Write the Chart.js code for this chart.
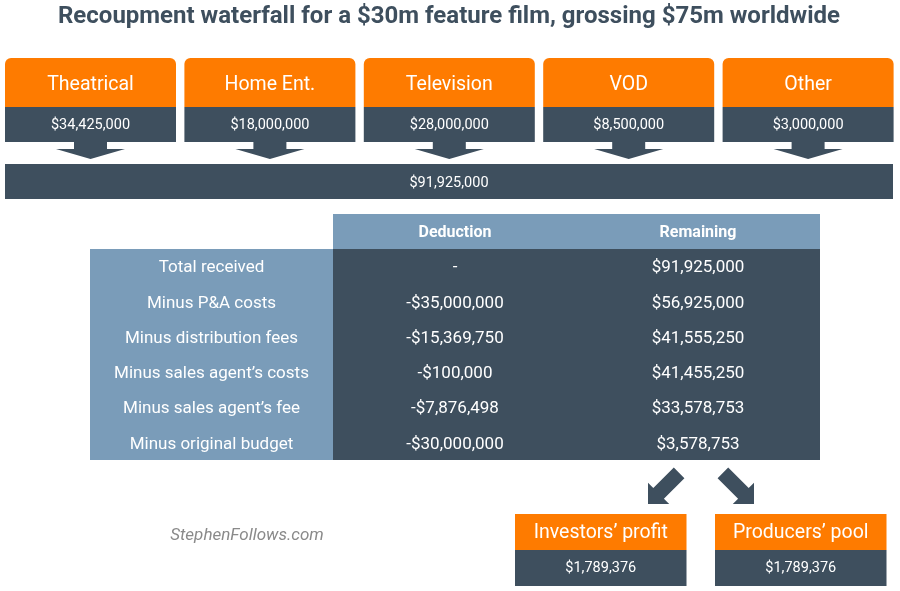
<!DOCTYPE html>
<html>
<head>
<meta charset="utf-8">
<script src="https://cdn.jsdelivr.net/npm/chart.js@4.4.1/dist/chart.umd.min.js"></script>
<style>
  html, body { margin: 0; padding: 0; background: #fff; }
  #contenedor { width: 900px; height: 591px; }
</style>
</head>
<body>
<div id="contenedor"><canvas id="grafica" width="900" height="591"></canvas></div>
<script>
const titulo = 'Recoupment waterfall for a $30m feature film, grossing $75m worldwide';
const fuentes = ['Theatrical', 'Home Ent.', 'Television', 'VOD', 'Other'];
const ingresos = [34425000, 18000000, 28000000, 8500000, 3000000];
const columnas = ['Deduction', 'Remaining'];
const pasos = ['Total received', 'Minus P&A costs', 'Minus distribution fees', 'Minus sales agent\u2019s costs', 'Minus sales agent\u2019s fee', 'Minus original budget'];
const deducciones = [null, -35000000, -15369750, -100000, -7876498, -30000000];
const restante = [91925000, 56925000, 41555250, 41455250, 33578753, 3578753];
const repartos = ['Investors\u2019 profit', 'Producers\u2019 pool'];
const repartoValores = [1789376, 1789376];
const firma = 'StephenFollows.com';

const NARANJA = '#fe7b00';
const PIZARRA = '#3e4f5e';
const ACERO = '#7a9cb9';
const FUENTE = 'Roboto, "Noto Sans", sans-serif';

function dinero(v) {
  if (v === null) return '-';
  return (v < 0 ? '-$' : '$') + Math.abs(v).toLocaleString('en-US');
}

function caja(ctx, x0, y0, x1, y1, color, radio) {
  ctx.fillStyle = color;
  ctx.beginPath();
  if (radio && ctx.roundRect) {
    ctx.roundRect(x0, y0, x1 - x0, y1 - y0, [radio, radio, 0, 0]);
  } else {
    ctx.rect(x0, y0, x1 - x0, y1 - y0);
  }
  ctx.fill();
}

function texto(ctx, str, x, y, fuente, color) {
  ctx.font = fuente;
  ctx.fillStyle = color;
  ctx.textAlign = 'center';
  ctx.textBaseline = 'middle';
  ctx.fillText(str, x, y + 1.5);
}

function poligono(ctx, puntos, color) {
  ctx.fillStyle = color;
  ctx.beginPath();
  puntos.forEach(([x, y], i) => i ? ctx.lineTo(x, y) : ctx.moveTo(x, y));
  ctx.closePath();
  ctx.fill();
}

// flecha diagonal: punta en (px, py), dir = -1 izquierda, 1 derecha
function flechaDiagonal(ctx, px, py, dir, color) {
  ctx.save();
  ctx.translate(px, py);
  ctx.rotate(dir < 0 ? Math.PI * 3 / 4 : Math.PI / 4);
  // eje local: x hacia la punta, punta en 0
  poligono(ctx, [[0, 0], [-15, -15], [-15, -7.5], [-44, -7.5], [-44, 7.5], [-15, 7.5], [-15, 15]], color);
  ctx.restore();
}

const dibujo = {
  id: 'dibujo',
  afterDraw(chart) {
    const ctx = chart.ctx;
    const X = v => chart.scales.x.getPixelForValue(v);
    const Y = v => chart.scales.y.getPixelForValue(v);

    texto(ctx, titulo, X(449), Y(15), `bold 24px ${FUENTE}`, PIZARRA);

    fuentes.forEach((nombre, i) => {
      const x0 = 5 + i * 179.4, x1 = x0 + 171, cx = (x0 + x1) / 2;
      caja(ctx, X(x0), Y(58), X(x1), Y(107), NARANJA, 6);
      caja(ctx, X(x0), Y(107), X(x1), Y(142), PIZARRA);
      texto(ctx, nombre, X(cx), Y(84), `19.5px ${FUENTE}`, '#fff');
      texto(ctx, dinero(ingresos[i]), X(cx), Y(124), `14.5px ${FUENTE}`, '#fff');
      poligono(ctx, [
        [X(cx - 16.5), Y(141)], [X(cx + 16.5), Y(141)], [X(cx + 16.5), Y(149)],
        [X(cx + 34.5), Y(149)], [X(cx), Y(159)], [X(cx - 34.5), Y(149)], [X(cx - 16.5), Y(149)]
      ], PIZARRA);
    });

    const total = ingresos.reduce((a, b) => a + b, 0);
    caja(ctx, X(5), Y(164), X(893), Y(199), PIZARRA);
    texto(ctx, dinero(total), X(449), Y(182), `14.5px ${FUENTE}`, '#fff');

    // tabla
    const centros = [211.5, 455, 698];
    caja(ctx, X(333), Y(214), X(820), Y(249), ACERO);
    caja(ctx, X(90), Y(249), X(333), Y(460), ACERO);
    caja(ctx, X(333), Y(249), X(820), Y(460), PIZARRA);
    columnas.forEach((c, i) => texto(ctx, c, X(centros[i + 1]), Y(231), `bold 16px ${FUENTE}`, '#fff'));
    pasos.forEach((p, i) => {
      const y = Y(266.5 + i * 35.3);
      texto(ctx, p, X(centros[0]), y, `17px ${FUENTE}`, '#fff');
      texto(ctx, dinero(deducciones[i]), X(centros[1]), y, `17px ${FUENTE}`, '#fff');
      texto(ctx, dinero(restante[i]), X(centros[2]), y, `17px ${FUENTE}`, '#fff');
    });

    flechaDiagonal(ctx, X(648), Y(504), -1, PIZARRA);
    flechaDiagonal(ctx, X(754), Y(504), 1, PIZARRA);

    repartos.forEach((nombre, i) => {
      const x0 = i ? 715 : 515, x1 = x0 + 171.5, cx = (x0 + x1) / 2;
      caja(ctx, X(x0), Y(514), X(x1), Y(550), NARANJA);
      caja(ctx, X(x0), Y(550), X(x1), Y(586), PIZARRA);
      texto(ctx, nombre, X(cx), Y(532), `19.5px ${FUENTE}`, '#fff');
      texto(ctx, dinero(repartoValores[i]), X(cx), Y(567), `14.5px ${FUENTE}`, '#fff');
    });

    texto(ctx, firma, X(247), Y(534), `italic 17px ${FUENTE}`, '#8a8a8a');
  }
};

const grafica = new Chart(document.getElementById('grafica').getContext('2d'), {
  type: 'scatter',
  data: { datasets: [{ data: [] }] },
  options: {
    responsive: false,
    animation: false,
    devicePixelRatio: 1,
    layout: { padding: 0 },
    plugins: { legend: { display: false }, tooltip: { enabled: false } },
    scales: {
      x: { type: 'linear', min: 0, max: 900, display: false },
      y: { type: 'linear', min: 0, max: 591, reverse: true, display: false }
    }
  },
  plugins: [dibujo]
});
</script>
</body>
</html>
